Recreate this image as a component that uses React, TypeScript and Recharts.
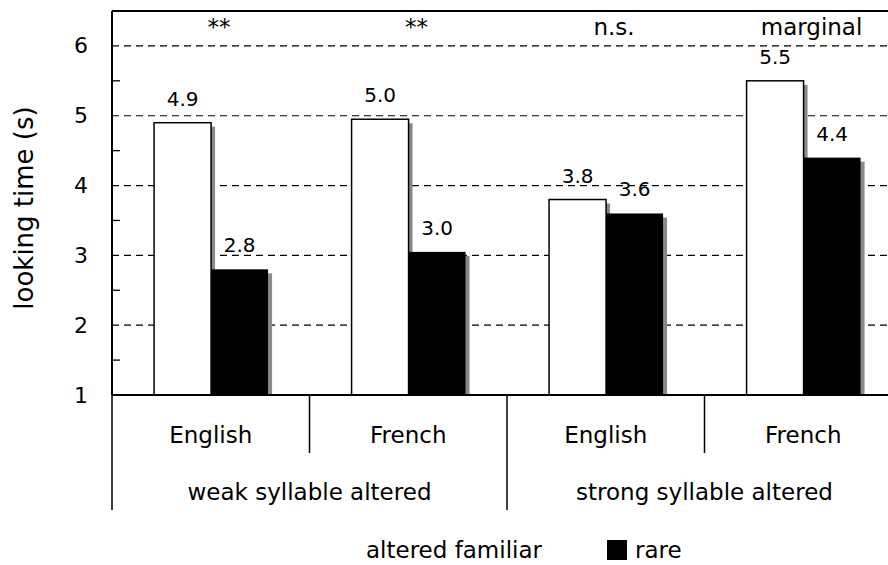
import React from 'react';
import {
  BarChart,
  Bar,
  XAxis,
  YAxis,
  CartesianGrid,
  ReferenceLine,
  LabelList,
  Legend,
} from 'recharts';

const categories = ['English', 'French', 'English', 'French'];
const groups = [
  'weak syllable altered',
  'weak syllable altered',
  'strong syllable altered',
  'strong syllable altered',
];
const significance = ['**', '**', 'n.s.', 'marginal'];
const familiarValues = [4.9, 4.95, 3.8, 5.5];
const rareValues = [2.8, 3.05, 3.6, 4.4];
const familiarLabels = ['4.9', '5.0', '3.8', '5.5'];
const rareLabels = ['2.8', '3.0', '3.6', '4.4'];
const yTicks = [1, 1.5, 2, 2.5, 3, 3.5, 4, 4.5, 5, 5.5, 6];
const gridValues = [2, 3, 4, 5, 6];

const FONT = '"DejaVu Sans", Verdana, sans-serif';
const CHART_W = 920;
const CHART_H = 565;
const TOP = 11;
const Y_AXIS_W = 112;
const MARGIN_RIGHT = 18;
const BAND = (CHART_W - Y_AXIS_W - MARGIN_RIGHT) / categories.length;
const LANG_AXIS_H = 58;
const GROUP_AXIS_H = 57;

const data = categories.map((lang, i) => ({
  lang,
  group: groups[i],
  sig: significance[i],
  familiar: familiarValues[i],
  rare: rareValues[i],
  familiarLabel: familiarLabels[i],
  rareLabel: rareLabels[i],
}));

const ShadowBar = (props: any) => {
  const { x, y, width, height, fill } = props;
  if (height <= 0) return null;
  const isWhite = fill === '#ffffff';
  return (
    <g>
      <rect x={x + 4} y={y + 4} width={width} height={Math.max(0, height - 4)} fill="#8a8a8a" />
      <rect
        x={x}
        y={y}
        width={width}
        height={height}
        fill={fill}
        stroke={isWhite ? '#000' : 'none'}
        strokeWidth={isWhite ? 1.5 : 0}
      />
    </g>
  );
};

const YTick = (props: any) => {
  const { x, y, payload } = props;
  if (Number.isInteger(payload.value)) {
    return (
      <text x={x - 24} y={y} textAnchor="end" dominantBaseline="central" fontSize={22} fill="#000">
        {payload.value}
      </text>
    );
  }
  return <line x1={x} x2={x + 8} y1={y} y2={y} stroke="#000" strokeWidth={1.3} />;
};

const LangTick = (props: any) => {
  const { x, y, payload, index } = props;
  return (
    <g>
      <text x={x} y={y + 40} textAnchor="middle" dominantBaseline="central" fontSize={23} fill="#000">
        {payload.value}
      </text>
      {index % 2 === 1 && (
        <line x1={x - BAND / 2} x2={x - BAND / 2} y1={y} y2={y + LANG_AXIS_H} stroke="#000" strokeWidth={1.5} />
      )}
    </g>
  );
};

const GroupTick = (props: any) => {
  const { x, y, payload, index, visibleTicksCount } = props;
  return (
    <g>
      <text x={x} y={y + 39} textAnchor="middle" dominantBaseline="central" fontSize={23} fill="#000">
        {payload.value}
      </text>
      <line x1={x - BAND} x2={x - BAND} y1={y - LANG_AXIS_H} y2={y + GROUP_AXIS_H} stroke="#000" strokeWidth={1.5} />
      {index === visibleTicksCount - 1 && (
        <line x1={x + BAND} x2={x + BAND} y1={y - LANG_AXIS_H} y2={y + GROUP_AXIS_H} stroke="#000" strokeWidth={1.5} />
      )}
    </g>
  );
};

// significance mark above each language pair, centred on the pair
const SigLabel = (props: any) => {
  const { x, width, value } = props;
  return (
    <text x={x + width + 8} y={TOP + 24} textAnchor="middle" fontSize={23} fill="#000">
      {value}
    </text>
  );
};

const renderLegend = (props: any) => {
  const { payload } = props;
  return (
    <div style={{ height: 55, position: 'relative', fontFamily: FONT }}>
      <div style={{ position: 'absolute', top: 30, left: 338, display: 'flex', alignItems: 'center' }}>
        {payload.map((entry: any, i: number) => (
          <div key={`leg-${i}`} style={{ display: 'flex', alignItems: 'center', marginRight: i === 0 ? 65 : 0 }}>
            <span style={{ width: 20, height: 20, background: entry.color, display: 'inline-block' }} />
            <span style={{ marginLeft: 8, fontSize: 23, lineHeight: '20px', color: '#000' }}>{entry.value}</span>
          </div>
        ))}
      </div>
    </div>
  );
};

const YTitle = (props: any) => {
  const { viewBox } = props;
  const cy = viewBox.y + viewBox.height / 2 + 5;
  return (
    <text
      x={24}
      y={cy}
      transform={`rotate(-90, 24, ${cy})`}
      textAnchor="middle"
      dominantBaseline="central"
      fontSize={26}
      fill="#000"
    >
      looking time (s)
    </text>
  );
};

export default function App() {
  return (
    <div
      style={{
        position: 'absolute',
        left: 0,
        top: 0,
        width: 888,
        height: 565,
        overflow: 'hidden',
        background: '#fff',
        fontFamily: FONT,
      }}
    >
      <BarChart
        width={CHART_W}
        height={CHART_H}
        data={data}
        margin={{ top: TOP, right: MARGIN_RIGHT, bottom: 0, left: 0 }}
        barCategoryGap="21.3%"
        barGap={0}
      >
        <CartesianGrid
          vertical={false}
          horizontalValues={gridValues}
          stroke="#000"
          strokeDasharray="7 5"
          strokeWidth={1.2}
        />
        <XAxis
          xAxisId="grp"
          dataKey="group"
          allowDuplicatedCategory={false}
          height={GROUP_AXIS_H}
          tickSize={0}
          tickMargin={0}
          tickLine={false}
          axisLine={false}
          tick={<GroupTick />}
          interval={0}
        />
        <XAxis
          xAxisId="cat"
          dataKey="lang"
          height={LANG_AXIS_H}
          tickSize={0}
          tickMargin={0}
          tickLine={false}
          axisLine={{ stroke: '#000', strokeWidth: 2 }}
          tick={<LangTick />}
          interval={0}
        />
        <YAxis
          domain={[1, 6.5]}
          ticks={yTicks}
          width={Y_AXIS_W}
          tickSize={0}
          tickMargin={0}
          tickLine={false}
          axisLine={{ stroke: '#000', strokeWidth: 2 }}
          tick={<YTick />}
          interval={0}
          allowDataOverflow
          label={<YTitle />}
        />
        <ReferenceLine y={6.5} xAxisId="cat" stroke="#000" strokeWidth={2} />
        <Legend verticalAlign="bottom" align="left" content={renderLegend} wrapperStyle={{ left: 0, bottom: 0 }} />
        <Bar
          xAxisId="cat"
          dataKey="familiar"
          name="altered familiar"
          fill="#ffffff"
          shape={<ShadowBar />}
          isAnimationActive={false}
        >
          <LabelList dataKey="familiarLabel" position="top" offset={17} fontSize={20} fill="#000" />
          <LabelList dataKey="sig" content={<SigLabel />} />
        </Bar>
        <Bar
          xAxisId="cat"
          dataKey="rare"
          name="rare"
          fill="#000000"
          shape={<ShadowBar />}
          isAnimationActive={false}
        >
          <LabelList dataKey="rareLabel" position="top" offset={17} fontSize={20} fill="#000" />
        </Bar>
      </BarChart>
    </div>
  );
}
